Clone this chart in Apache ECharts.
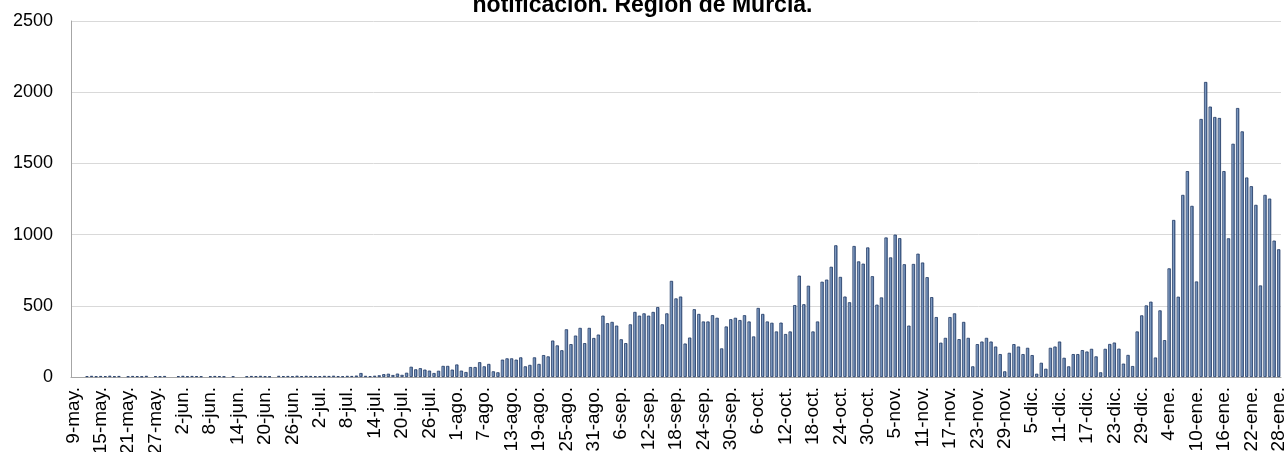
<!DOCTYPE html>
<html>
<head>
<meta charset="utf-8">
<script src="https://cdn.jsdelivr.net/npm/echarts@6/dist/echarts.min.js"></script>
<style>
  html, body { margin: 0; padding: 0; background: #fff; }
  #chart { width: 1285px; height: 452px; }
</style>
</head>
<body>
<div id="chart"></div>
<script>
// casos diarios, 9-may-2020 .. 28-ene-2021
var may = [0, 0, 0, 6, 8, 5, 7, 6, 9, 5, 7, 0, 5, 7, 6, 4, 8, 0, 6, 5, 7, 0, 0];
var jun = [6, 8, 5, 7, 6, 5, 0, 5, 7, 6, 4, 0, 5, 0, 0, 5, 7, 6, 8, 5, 4, 0, 8, 6, 7, 5, 9, 6, 8, 7];
var jul = [5, 6, 8, 7, 9, 6, 5, 8, 7, 10, 28, 8, 6, 9, 12, 20, 23, 14, 24, 15, 30, 72, 54, 62, 52, 45, 28, 44, 78, 78, 52];
var ago = [88, 45, 35, 70, 70, 104, 75, 92, 40, 33, 122, 131, 131, 122, 138, 75, 85, 138, 92, 154, 145, 256, 222, 188, 335, 231, 291, 345, 238, 345, 274];
var sep = [298, 431, 378, 387, 361, 265, 238, 370, 457, 431, 447, 431, 457, 491, 370, 447, 675, 552, 565, 235, 277, 476, 443, 390, 390, 434, 416, 201, 355, 406];
var oct = [416, 400, 434, 390, 285, 485, 443, 390, 381, 320, 382, 302, 320, 505, 712, 511, 641, 320, 390, 669, 684, 774, 925, 703, 565, 525, 920, 812, 796, 910, 708];
var nov = [508, 559, 980, 840, 1000, 975, 792, 361, 794, 866, 804, 701, 561, 421, 241, 275, 421, 447, 266, 387, 275, 75, 231, 249, 275, 249, 214, 161, 40, 170];
var dic = [231, 214, 161, 205, 154, 23, 100, 58, 205, 214, 249, 135, 75, 161, 161, 189, 179, 198, 145, 33, 198, 232, 242, 199, 94, 155, 77, 320, 433, 503, 529];
var ene = [137, 468, 259, 763, 1103, 564, 1279, 1446, 1202, 671, 1812, 2072, 1899, 1826, 1819, 1446, 974, 1638, 1889, 1725, 1401, 1340, 1209, 643, 1279, 1253, 958, 897];

var monthNames = ['may', 'jun', 'jul', 'ago', 'sep', 'oct', 'nov', 'dic', 'ene'];
var monthStart = [9, 1, 1, 1, 1, 1, 1, 1, 1];
var monthData = [may, jun, jul, ago, sep, oct, nov, dic, ene];
var yTicks = [0, 500, 1000, 1500, 2000, 2500];

var categories = [];
var values = [];
for (var m = 0; m < monthData.length; m++) {
    for (var d = 0; d < monthData[m].length; d++) {
        var v = monthData[m][d];
        categories.push((monthStart[m] + d) + '-' + monthNames[m] + '.');
        // no dibujar borde en los dias sin casos
        values.push(v === 0 ? { value: 0, itemStyle: { borderWidth: 0 } } : v);
    }
}

var chart = echarts.init(document.getElementById('chart'));
chart.setOption({
    animation: false,
    title: {
        text: 'notificación. Región de Murcia.',
        left: 'center',
        top: -11,
        textStyle: { fontFamily: 'Liberation Sans', fontSize: 23, fontWeight: 'bold', color: '#000' }
    },
    grid: { left: 71, right: 4, top: 21, bottom: 75, outerBoundsMode: 'none', containLabel: false },
    xAxis: {
        type: 'category',
        data: categories,
        boundaryGap: true,
        axisLine: { lineStyle: { color: '#a6a6a6', width: 1 } },
        axisTick: { interval: 5, length: 6, lineStyle: { color: '#a6a6a6' } },
        axisLabel: {
            interval: 5,
            rotate: 90,
            margin: 10,
            fontFamily: 'Liberation Sans',
            fontSize: 19,
            color: '#000'
        }
    },
    yAxis: {
        type: 'value',
        min: yTicks[0],
        max: yTicks[yTicks.length - 1],
        interval: 500,
        axisLine: { show: true, lineStyle: { color: '#a6a6a6' } },
        axisTick: { show: false },
        splitLine: { lineStyle: { color: '#d9d9d9', width: 1 } },
        axisLabel: {
            fontFamily: 'Liberation Sans', fontSize: 18, color: '#000', margin: 18,
            formatter: function (val) { return String(val); }
        }
    },
    series: [{
        type: 'bar',
        data: values,
        barCategoryGap: '28%',
        itemStyle: {
            color: new echarts.graphic.LinearGradient(0, 0, 1, 0, [
                { offset: 0, color: '#c9d6e8' },
                { offset: 0.5, color: '#7391bb' },
                { offset: 1, color: '#34547f' }
            ]),
            borderColor: '#1f3864',
            borderWidth: 0.8
        }
    }]
});
</script>
</body>
</html>
